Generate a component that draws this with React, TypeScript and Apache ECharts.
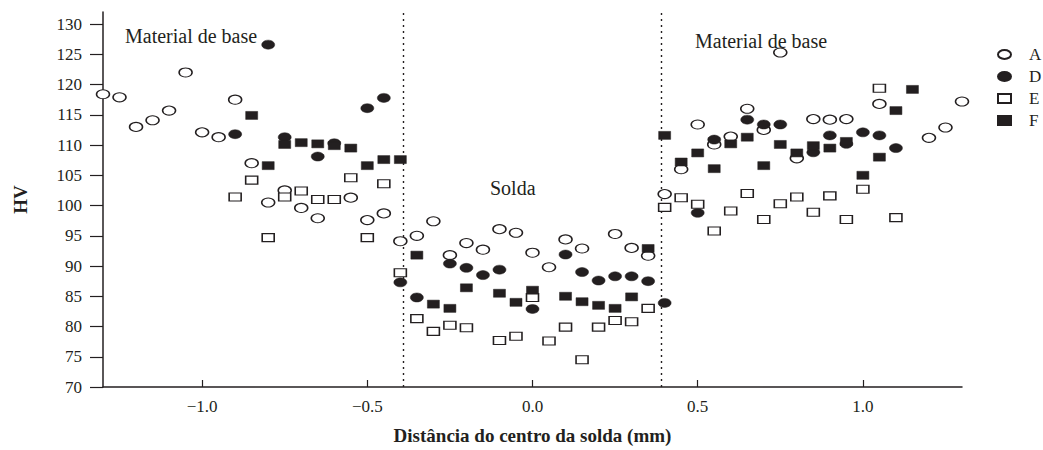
import React, { useEffect, useRef } from "react";
import * as echarts from "echarts";

const seriesNames = ["A", "D", "E", "F"];

const dataA: [number, number][] = [
  [-1.3, 118.4], [-1.25, 117.9], [-1.2, 113.0], [-1.15, 114.1], [-1.1, 115.7], [-1.05, 122.0],
  [-1.0, 112.1], [-0.95, 111.3], [-0.9, 117.5], [-0.85, 107.0], [-0.8, 100.5], [-0.75, 102.5],
  [-0.7, 99.6], [-0.65, 97.9], [-0.55, 101.3], [-0.5, 97.6], [-0.45, 98.7], [-0.4, 94.1],
  [-0.35, 95.0], [-0.3, 97.4], [-0.25, 91.8], [-0.2, 93.8], [-0.15, 92.7], [-0.1, 96.1],
  [-0.05, 95.5], [0.0, 92.2], [0.05, 89.8], [0.1, 94.4], [0.15, 92.9], [0.25, 95.3],
  [0.3, 93.0], [0.35, 91.7], [0.4, 101.9], [0.45, 106.0], [0.5, 113.4], [0.55, 110.1],
  [0.6, 111.4], [0.65, 116.0], [0.7, 112.5], [0.75, 125.3], [0.8, 107.8], [0.85, 114.3],
  [0.9, 114.2], [0.95, 114.3], [1.05, 116.8], [1.2, 111.2], [1.25, 112.9], [1.3, 117.2],
];

const dataD: [number, number][] = [
  [-0.9, 111.8], [-0.8, 126.6], [-0.75, 111.3], [-0.65, 108.1], [-0.6, 110.3], [-0.5, 116.1],
  [-0.45, 117.8], [-0.4, 87.3], [-0.35, 84.8], [-0.25, 90.4], [-0.2, 89.7], [-0.15, 88.5],
  [-0.1, 89.4], [0.0, 82.9], [0.1, 91.9], [0.15, 89.0], [0.2, 87.6], [0.25, 88.3],
  [0.3, 88.3], [0.35, 87.5], [0.4, 83.9], [0.5, 98.8], [0.55, 110.9], [0.65, 114.2],
  [0.7, 113.4], [0.75, 113.4], [0.85, 108.8], [0.9, 111.6], [0.95, 110.2], [1.0, 112.1],
  [1.05, 111.6], [1.1, 109.5],
];

const dataE: [number, number][] = [
  [-0.9, 101.4], [-0.85, 104.2], [-0.8, 94.7], [-0.75, 101.4], [-0.7, 102.4], [-0.65, 101.0],
  [-0.6, 101.0], [-0.55, 104.6], [-0.5, 94.7], [-0.45, 103.6], [-0.4, 88.9], [-0.35, 81.3],
  [-0.3, 79.2], [-0.25, 80.2], [-0.2, 79.8], [-0.1, 77.7], [-0.05, 78.4], [0.0, 84.8],
  [0.05, 77.6], [0.1, 79.9], [0.15, 74.5], [0.2, 79.9], [0.25, 81.0], [0.3, 80.8],
  [0.35, 83.0], [0.4, 99.7], [0.45, 101.3], [0.5, 100.2], [0.55, 95.8], [0.6, 99.1],
  [0.65, 102.0], [0.7, 97.7], [0.75, 100.3], [0.8, 101.4], [0.85, 98.9], [0.9, 101.6],
  [0.95, 97.7], [1.0, 102.7], [1.05, 119.4], [1.1, 98.0],
];

const dataF: [number, number][] = [
  [-0.85, 114.9], [-0.8, 106.6], [-0.75, 110.1], [-0.7, 110.4], [-0.65, 110.2], [-0.6, 109.9],
  [-0.55, 109.5], [-0.5, 106.6], [-0.45, 107.6], [-0.4, 107.6], [-0.35, 91.8], [-0.3, 83.7],
  [-0.25, 83.0], [-0.2, 86.4], [-0.1, 85.5], [-0.05, 84.0], [0.0, 86.0], [0.1, 85.0],
  [0.15, 84.1], [0.2, 83.5], [0.25, 83.0], [0.3, 84.9], [0.35, 92.9], [0.4, 111.6],
  [0.45, 107.2], [0.5, 108.7], [0.55, 106.1], [0.6, 110.2], [0.65, 111.3], [0.7, 106.6],
  [0.75, 110.1], [0.8, 108.7], [0.85, 109.9], [0.9, 109.5], [0.95, 110.6], [1.0, 105.0],
  [1.05, 108.0], [1.1, 115.7], [1.15, 119.2],
];

const xTicks = [-1.0, -0.5, 0.0, 0.5, 1.0];
const yTicks = [70, 75, 80, 85, 90, 95, 100, 105, 110, 115, 120, 125, 130];
const weldBounds = [-0.39, 0.39];

const INK = "#231f20";
const FONT = "Liberation Serif";
const ELLIPSE_ICON = "path://M0,4.5A6.5,4.5,0,1,1,13,4.5A6.5,4.5,0,1,1,0,4.5Z";

export default function App() {
  const ref = useRef<HTMLDivElement>(null);
  useEffect(() => {
    document.body.style.margin = "0";
    if (!ref.current) return;
    const chart = echarts.init(ref.current, undefined, { renderer: "svg" });
    const openStyle = { color: "#ffffff", borderColor: INK, borderWidth: 1.3, opacity: 1 };
    const fillStyle = { color: INK, borderColor: INK, borderWidth: 0.5, opacity: 1 };
    const allData = [dataA, dataD, dataE, dataF];
    const symbols = ["circle", "circle", "rect", "rect"];
    const sizes = [[13, 9], [13, 9], [12, 8], [12, 8]];
    const styles = [openStyle, fillStyle, openStyle, fillStyle];
    const series: any[] = seriesNames.map((name, i) => ({
      name,
      type: "scatter",
      data: allData[i],
      symbol: symbols[i],
      symbolSize: sizes[i],
      itemStyle: styles[i],
      z: 3,
    }));
    series[0].markLine = {
      silent: true,
      symbol: ["none", "none"],
      label: { show: false },
      lineStyle: { type: [2, 4], color: INK, width: 1.4, opacity: 1 },
      data: weldBounds.map((v) => ({ xAxis: v })),
      z: 1,
    };
    chart.setOption({
      animation: false,
      backgroundColor: "#ffffff",
      textStyle: { fontFamily: FONT, color: INK },
      grid: { left: 103, right: 81, top: 12, bottom: 61 },
      legend: {
        orient: "vertical",
        left: 992,
        top: 41,
        itemWidth: 13,
        itemHeight: 9,
        itemGap: 5,
        data: seriesNames.map((name, i) => (symbols[i] === "circle" ? { name, icon: ELLIPSE_ICON } : { name })),
        textStyle: { fontFamily: FONT, fontSize: 17, color: INK, padding: [0, 0, 0, 13] },
      },
      xAxis: {
        type: "value",
        min: -1.3,
        max: 1.3,
        name: "Distância do centro da solda (mm)",
        nameLocation: "middle",
        nameGap: 39,
        nameTextStyle: { fontFamily: FONT, fontSize: 19, fontWeight: "bold", color: INK },
        splitLine: { show: false },
        axisLine: { onZero: false, lineStyle: { color: INK, width: 1.5 } },
        axisTick: { inside: true, length: 7, customValues: xTicks, lineStyle: { color: INK, width: 1.2 } },
        axisLabel: {
          customValues: xTicks,
          fontFamily: FONT,
          fontSize: 17,
          color: INK,
          margin: 11,
          formatter: (v: number) => (v < 0 ? "\u2212" + Math.abs(v).toFixed(1) : v.toFixed(1)),
        },
      },
      yAxis: {
        type: "value",
        min: 70,
        max: 132,
        name: "HV",
        nameLocation: "middle",
        nameGap: 73,
        nameTextStyle: { fontFamily: FONT, fontSize: 19, fontWeight: "bold", color: INK },
        splitLine: { show: false },
        axisLine: { onZero: false, lineStyle: { color: INK, width: 1.5 } },
        axisTick: { inside: false, length: 13, customValues: yTicks, lineStyle: { color: INK, width: 1.2 } },
        axisLabel: { customValues: yTicks, fontFamily: FONT, fontSize: 17, color: INK, margin: 21 },
      },
      graphic: [
        { type: "text", left: 125, top: 26, style: { text: "Material de base", fontFamily: FONT, fontSize: 20, fill: INK } },
        { type: "text", left: 695, top: 31, style: { text: "Material de base", fontFamily: FONT, fontSize: 20, fill: INK } },
        { type: "text", left: 490, top: 178, style: { text: "Solda", fontFamily: FONT, fontSize: 20, fill: INK } },
      ],
      series,
    });
    return () => chart.dispose();
  }, []);
  return <div ref={ref} style={{ position: "fixed", left: 0, top: 0, width: 1043, height: 450 }} />;
}
